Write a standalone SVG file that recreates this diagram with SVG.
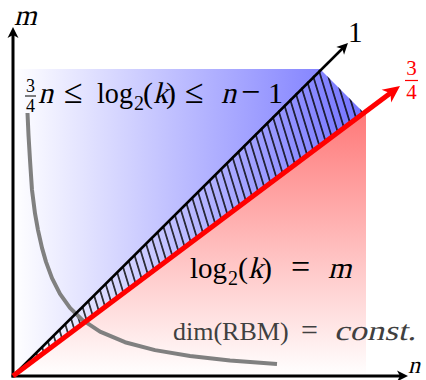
<svg xmlns="http://www.w3.org/2000/svg" width="426" height="380" viewBox="0 0 426 380">
<style>
  .tx { font-family: "Liberation Serif", "Times New Roman", serif; font-size: 30px; fill: #000; }
  .sub { font-size: 20px; }
  .rel { font-size: 34px; }
  .fr { font-size: 18px; }
  .gray { fill: #404040; font-size: 26px; }
  .red { fill: #ff0000; }
</style>
<defs>
  <linearGradient id="gBlue" gradientUnits="userSpaceOnUse" x1="13" y1="0" x2="364" y2="0">
    <stop offset="0" stop-color="#ffffff"/>
    <stop offset="1" stop-color="#7474ff"/>
  </linearGradient>
  <linearGradient id="gRed" gradientUnits="userSpaceOnUse" x1="0" y1="111" x2="0" y2="376">
    <stop offset="0" stop-color="#ff7878"/>
    <stop offset="1" stop-color="#ffffff"/>
  </linearGradient>
  <pattern id="hatch" patternUnits="userSpaceOnUse" width="7.2" height="10" patternTransform="rotate(-17)">
    <line x1="3.6" y1="-1" x2="3.6" y2="11" stroke="#000" stroke-width="1.4"/>
  </pattern>
  <marker id="arrK" viewBox="-12 -6 13 12" refX="-7" refY="0" markerWidth="13" markerHeight="12" markerUnits="userSpaceOnUse" orient="auto">
    <path d="M0,0 L-11,-5.5 L-8,0 L-11,5.5 Z" fill="#000"/>
  </marker>
  <marker id="arrR" viewBox="-18 -9 19 18" refX="-11" refY="0" markerWidth="19" markerHeight="18" markerUnits="userSpaceOnUse" orient="auto">
    <path d="M0,0 L-17,-8 L-12,0 L-17,8 Z" fill="#ff0000"/>
  </marker>
</defs>

<g id="regions">
  <polygon id="blue-region" points="13,69 320,69 364,113 13,376" fill="url(#gBlue)"/>
  <polygon id="red-region" points="13,376 366,111.25 366,376" fill="url(#gRed)"/>
  <polygon id="hatch-region" points="13,376 320,69 364,113" fill="url(#hatch)"/>
</g>

<g id="dim-curve">
  <polyline points="27.5,113 28.5,135 30,160 32,190 35,213.4 38,230.1 42,247.9 46,261.9 52,278.1 60,293.9 70,307.9 82,319.7 100,331.7 125,342.2 155,350.1 190,356 230,360.4 277,364" fill="none" stroke="#808080" stroke-width="4" stroke-linejoin="round"/>
</g>

<g id="connectors">
  <line id="y-axis" x1="13" y1="377.5" x2="13" y2="34" stroke="#000" stroke-width="3" marker-end="url(#arrK)"/>
  <line id="x-axis" x1="11.5" y1="376" x2="401" y2="376" stroke="#000" stroke-width="3" marker-end="url(#arrK)"/>
  <line id="line-1" x1="13" y1="376" x2="343" y2="48" stroke="#000" stroke-width="2.5" marker-end="url(#arrK)"/>
  <line id="line-34" x1="13" y1="376" x2="391.2" y2="92.6" stroke="#ff0000" stroke-width="5" marker-end="url(#arrR)"/>
</g>

<g id="label-m"><text class="tx" transform="translate(14,25) skewX(-14)" style="font-size:29px">m</text></g>
<g id="label-n"><text class="tx" transform="translate(408,373) skewX(-14)" style="font-size:24px">n</text></g>
<g id="label-1"><text class="tx" x="348" y="42" style="font-size:29px">1</text></g>
<g id="label-34">
  <text class="tx red" x="411.5" y="75" text-anchor="middle" style="font-size:21px">3</text>
  <line x1="405" y1="80.5" x2="418" y2="80.5" stroke="#ff0000" stroke-width="1.2"/>
  <text class="tx red" x="411.5" y="99" text-anchor="middle" style="font-size:21px">4</text>
</g>

<g id="label-ineq">
  <text class="tx fr" x="30.5" y="92" text-anchor="middle">3</text>
  <line x1="25" y1="96" x2="36" y2="96" stroke="#000" stroke-width="1"/>
  <text class="tx fr" x="30.5" y="112" text-anchor="middle">4</text>
  <text class="tx" transform="translate(38,103) skewX(-14)">n</text>
  <text class="tx" y="103"><tspan class="rel" x="64">≤</tspan><tspan x="97" textLength="36" lengthAdjust="spacingAndGlyphs">log</tspan><tspan class="sub" x="134" y="110">2</tspan><tspan x="143" y="103">(</tspan></text>
  <text class="tx" transform="translate(153,103) skewX(-14)">k</text>
  <text class="tx" y="103"><tspan x="166">)</tspan><tspan class="rel" x="185">≤</tspan></text>
  <text class="tx" transform="translate(221,103) skewX(-14)">n</text>
  <text class="tx" y="103"><tspan class="rel" x="241">−</tspan><tspan x="268">1</tspan></text>
</g>

<g id="label-log">
  <text class="tx" y="278"><tspan x="190" textLength="37" lengthAdjust="spacingAndGlyphs">log</tspan><tspan class="sub" x="228" y="285">2</tspan><tspan x="238" y="278">(</tspan></text>
  <text class="tx" transform="translate(248,278) skewX(-14)">k</text>
  <text class="tx" y="278"><tspan x="262">)</tspan><tspan class="rel" x="291">=</tspan></text>
  <text class="tx" transform="translate(328,278) skewX(-14)">m</text>
</g>

<g id="label-dim">
  <text class="tx gray" y="340"><tspan x="173">dim(RBM)</tspan><tspan x="301" style="font-size:30px">=</tspan></text>
  <text class="tx gray" transform="translate(334,340) skewX(-14)" textLength="82" lengthAdjust="spacingAndGlyphs" style="font-size:28px">const.</text>
</g>
</svg>
